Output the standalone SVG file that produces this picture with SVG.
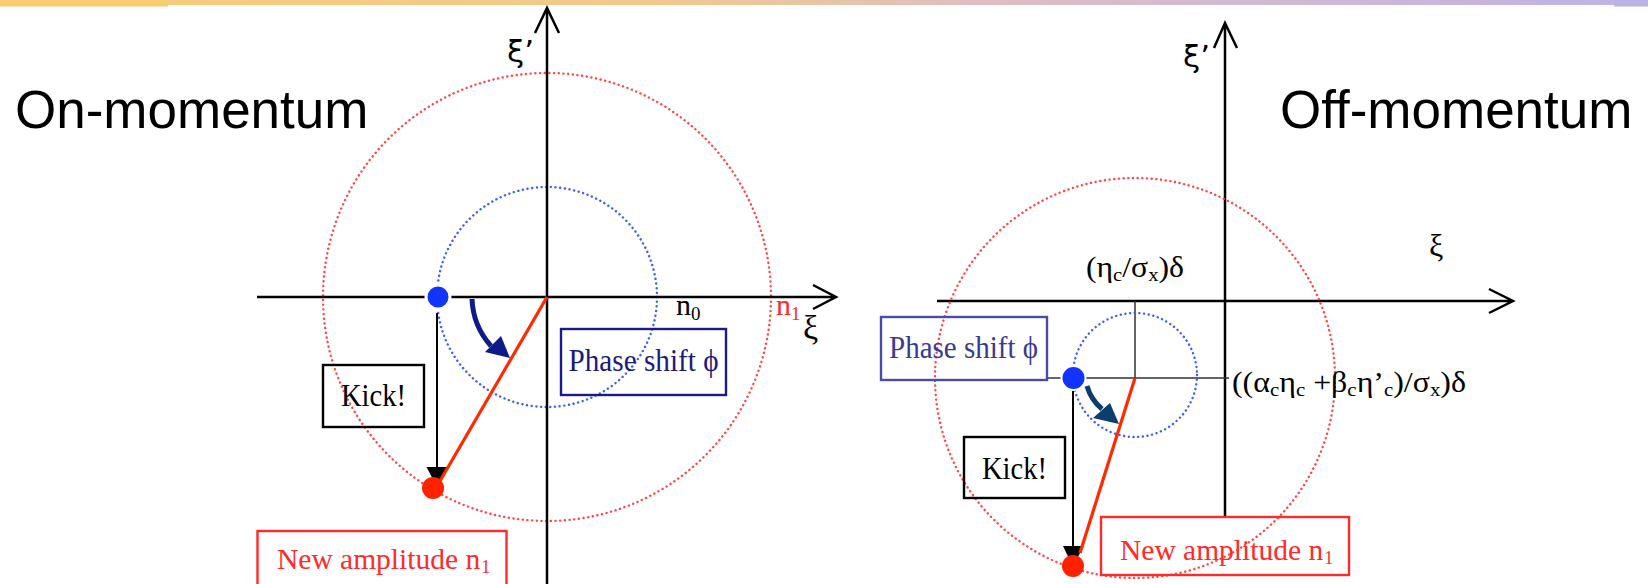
<svg xmlns="http://www.w3.org/2000/svg" width="1648" height="584" viewBox="0 0 1648 584">
<defs>
<linearGradient id="band" x1="0" y1="0" x2="1" y2="0">
<stop offset="0" stop-color="#f7cd76"/>
<stop offset="0.4" stop-color="#f0c98e"/>
<stop offset="0.62" stop-color="#dcbdc6"/>
<stop offset="1" stop-color="#bdb3e6"/>
</linearGradient>
</defs>
<style>
.axis{stroke:#000;stroke-width:2.5;fill:none}
.thin{stroke:#333;stroke-width:1.5;fill:none}
.rdot{stroke:#ff4646;stroke-width:2.4;fill:none;stroke-dasharray:0.1 4.6;stroke-linecap:round}
.bdot{stroke:#3c5cff;stroke-width:2.4;fill:none;stroke-dasharray:0.1 4.6;stroke-linecap:round}
.kick{stroke:#000;stroke-width:2;fill:none}
.amp{stroke:#ff2a00;stroke-width:3.2;fill:none}
.serif{font-family:"Liberation Serif","Times New Roman",serif}
.sans{font-family:"Liberation Sans",Arial,sans-serif}
.xi{font-family:"DejaVu Sans","Liberation Sans",sans-serif}
.box{fill:none;stroke-width:2.4}
</style>
<rect x="0" y="0" width="1648" height="5" fill="url(#band)"/>
<rect x="0" y="0" width="168" height="6.5" fill="#f7cb70"/>
<rect x="1614" y="0" width="34" height="6.5" fill="#bbb2e8"/>

<text class="sans" x="15" y="128" font-size="53">On-momentum</text>
<text class="sans" x="1280" y="128" font-size="53">Off-momentum</text>

<!-- left panel -->
<g id="left-circles">
<circle class="rdot" cx="547" cy="297" r="224"/>
<circle class="bdot" cx="547" cy="297" r="110"/>
</g>
<g id="connectors">
<path class="axis" d="M257 297 H836 M813 285 L836 297 L813 309"/>
<path class="axis" d="M547 584 V8 M535 33 L547 8 L559 33"/>
<path class="kick" d="M437 313 V468"/>
<polygon points="426.5,467 448,467 437,487" fill="#000"/>
<path class="amp" d="M547 297 L440 481"/>
<path d="M472 299 A75 75 0 0 0 491 346" stroke="#0d1a8a" stroke-width="5" fill="none"/>
<polygon points="485,352 501,336 510,358" fill="#0d1a8a"/>

<path class="axis" d="M937 301 H1513 M1489 289 L1513 301 L1489 313"/>
<path class="axis" d="M1225 517 V23 M1214 48 L1225 23 L1237 48"/>
<path class="thin" d="M1047 378 H1229 M1135 301 V378"/>
<path class="kick" d="M1073 390 V547"/>
<polygon points="1063,546 1083.5,546 1073,567" fill="#000"/>
<path class="amp" d="M1135 378 L1080 553"/>
<path d="M1087 386 A47 47 0 0 0 1102 409" stroke="#0b3d6e" stroke-width="5" fill="none"/>
<polygon points="1093,418 1110,403 1119,424" fill="#0b3d6e"/>
</g>

<g id="left-points">
<circle cx="438" cy="297" r="12" fill="#1234ff" stroke="#fff" stroke-width="3"/>
<circle cx="433" cy="488" r="11" fill="#ff2200"/>
</g>

<text class="xi" x="507" y="62" font-size="31">ξ’</text>
<text class="serif" x="803" y="339" font-size="34">ξ</text>
<text class="serif" x="676" y="315" font-size="30">n<tspan font-size="19" dy="5">0</tspan></text>
<text class="serif" x="776" y="315" font-size="30" fill="#ff2a2a">n<tspan font-size="19" dy="5">1</tspan></text>

<g id="left-phase">
<rect class="box" x="561" y="329" width="165" height="66" stroke="#1a1a8c"/>
<text class="serif" x="643.5" y="371" font-size="32" text-anchor="middle" fill="#1a1a80" textLength="150" lengthAdjust="spacingAndGlyphs">Phase shift ϕ</text>
</g>
<g id="left-kick">
<rect class="box" x="323" y="365" width="101" height="62" stroke="#000"/>
<text class="serif" x="373.5" y="406" font-size="32" text-anchor="middle" textLength="65" lengthAdjust="spacingAndGlyphs">Kick!</text>
</g>
<g id="left-amp">
<rect class="box" x="257.5" y="531" width="249" height="60" stroke="#ff2a2a"/>
<text class="serif" x="277" y="569" font-size="29.5" fill="#ff2a2a">New amplitude n<tspan font-size="18" dy="4" dx="1">1</tspan></text>
</g>

<!-- right panel -->
<g id="right-circles">
<circle class="rdot" cx="1135" cy="378" r="200"/>
<circle class="bdot" cx="1135" cy="375" r="62"/>
</g>
<g id="right-points">
<circle cx="1073.5" cy="378" r="12" fill="#1234ff" stroke="#fff" stroke-width="2"/>
<circle cx="1073" cy="566" r="11" fill="#ff2200"/>
</g>

<text class="xi" x="1183" y="67" font-size="31">ξ’</text>
<text class="serif" x="1429" y="256" font-size="32">ξ</text>
<text class="serif" x="1086" y="277" font-size="29" textLength="98" lengthAdjust="spacingAndGlyphs">(η<tspan font-size="19" dy="4">c</tspan><tspan dy="-4">/σ</tspan><tspan font-size="19" dy="4">x</tspan><tspan dy="-4">)δ</tspan></text>
<text class="serif" x="1232" y="392" font-size="29" textLength="234" lengthAdjust="spacingAndGlyphs">((α<tspan font-size="19" dy="4">c</tspan><tspan dy="-4">η</tspan><tspan font-size="19" dy="4">c</tspan><tspan dy="-4"> +β</tspan><tspan font-size="19" dy="4">c</tspan><tspan dy="-4">η’</tspan><tspan font-size="19" dy="4">c</tspan><tspan dy="-4">)/σ</tspan><tspan font-size="19" dy="4">x</tspan><tspan dy="-4">)δ</tspan></text>

<g id="right-phase">
<rect class="box" x="881" y="317" width="166" height="63" stroke="#4a4aa8"/>
<text class="serif" x="963.5" y="358" font-size="32" text-anchor="middle" fill="#3a3a90" textLength="149" lengthAdjust="spacingAndGlyphs">Phase shift ϕ</text>
</g>
<g id="right-kick">
<rect class="box" x="964" y="437" width="101" height="61" stroke="#000"/>
<text class="serif" x="1014.5" y="479" font-size="32" text-anchor="middle" textLength="65" lengthAdjust="spacingAndGlyphs">Kick!</text>
</g>
<g id="right-amp">
<rect class="box" x="1101" y="517" width="248" height="58" stroke="#ff2a2a"/>
<text class="serif" x="1120" y="560" font-size="29.5" fill="#ff2a2a">New amplitude n<tspan font-size="18" dy="4" dx="1">1</tspan></text>
</g>
</svg>
